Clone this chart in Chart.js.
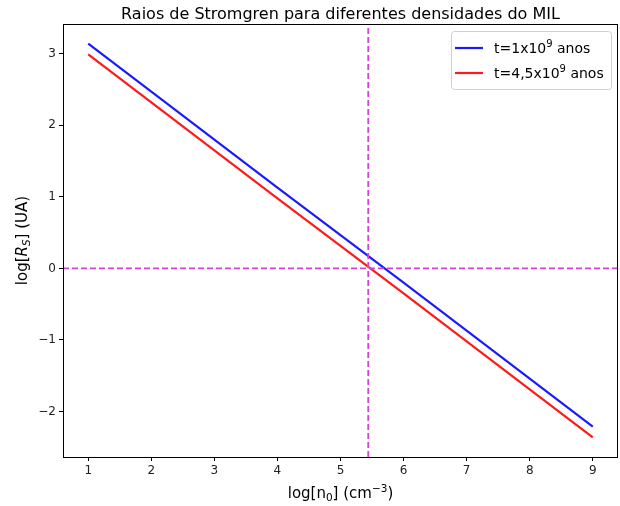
<!DOCTYPE html>
<html>
<head>
<meta charset="utf-8">
<script src="https://cdn.jsdelivr.net/npm/chart.js@4/dist/chart.umd.min.js"></script>
<style>
  html, body { margin: 0; padding: 0; background: #fff; }
  #wrap { width: 620px; height: 506px; position: relative; }
</style>
</head>
<body>
<div id="wrap"><canvas id="chart"></canvas></div>
<script>
// data
const logN0 = [1, 2, 3, 4, 5, 6, 7, 8, 9];
const logRs_t1 = [3.14, 2.47, 1.80, 1.13, 0.465, -0.20, -0.87, -1.54, -2.21];
const logRs_t45 = [2.99, 2.32, 1.65, 0.98, 0.315, -0.35, -1.02, -1.69, -2.36];
const crossX = 5.44;   // vertical dashed line
const crossY = 0;      // horizontal dashed line
const xTicks = [1, 2, 3, 4, 5, 6, 7, 8, 9];
const yTicks = [-2, -1, 0, 1, 2, 3];
const xRange = [0.6, 9.4];
const yRange = [-2.635, 3.415];

const FONT = '"DejaVu Sans", sans-serif';
const magenta = '#d444d4';

const toPts = (xs, ys) => xs.map((x, i) => ({ x: x, y: ys[i] }));

// frame, titles and legend drawn the matplotlib way
const decor = {
  id: 'decor',
  afterDraw(chart) {
    const { ctx, chartArea: a } = chart;
    ctx.save();
    // box around the plot
    ctx.strokeStyle = '#000';
    ctx.lineWidth = 1;
    ctx.strokeRect(Math.round(a.left) + 0.5, Math.round(a.top) + 0.5,
      Math.round(a.right - a.left) - 1, Math.round(a.bottom - a.top));

    ctx.fillStyle = '#000';
    ctx.textBaseline = 'alphabetic';
    // title
    ctx.font = '16px ' + FONT;
    ctx.textAlign = 'center';
    ctx.fillText('Raios de Stromgren para diferentes densidades do MIL', (a.left + a.right) / 2, 19);

    // x title: log[n0] (cm^-3)
    const cx = (a.left + a.right) / 2;
    drawParts(ctx, [
      ['log[n', 15, 0], ['0', 10.5, 3], ['] (cm', 15, 0], ['\u22123', 10.5, -6], [')', 15, 0]
    ], cx, 498);

    // y title rotated
    ctx.save();
    ctx.translate(27, (a.top + a.bottom) / 2);
    ctx.rotate(-Math.PI / 2);
    drawParts(ctx, [
      ['log[', 15, 0], ['R', 15, 0, 'italic '], ['S', 10.5, 3, 'italic '], ['] (UA)', 15, 0]
    ], 0, 0);
    ctx.restore();

    // legend
    const lx = 451, ly = 31, lw = 160, lh = 58;
    ctx.fillStyle = 'rgba(255,255,255,0.8)';
    ctx.strokeStyle = '#d0d0d0';
    ctx.beginPath();
    ctx.roundRect(lx + 0.5, ly + 0.5, lw, lh, 3);
    ctx.fill();
    ctx.stroke();
    const items = [
      { color: '#1a1aff', y: 48, label: [['t=1x10', 14, 0], ['9', 10, -6], [' anos', 14, 0]] },
      { color: '#ff1a1a', y: 73, label: [['t=4,5x10', 14, 0], ['9', 10, -6], [' anos', 14, 0]] }
    ];
    items.forEach(it => {
      ctx.strokeStyle = it.color;
      ctx.lineWidth = 2.2;
      ctx.beginPath();
      ctx.moveTo(455, it.y);
      ctx.lineTo(483, it.y);
      ctx.stroke();
      ctx.fillStyle = '#000';
      drawParts(ctx, it.label, 494, it.y + 5, 'left');
    });
    ctx.restore();
  }
};

function drawParts(ctx, parts, x, y, align) {
  const widths = parts.map(p => { ctx.font = (p[3] || '') + p[1] + 'px ' + FONT; return ctx.measureText(p[0]).width; });
  const total = widths.reduce((s, w) => s + w, 0);
  let cur = align === 'left' ? x : x - total / 2;
  ctx.textAlign = 'left';
  parts.forEach((p, i) => {
    ctx.font = (p[3] || '') + p[1] + 'px ' + FONT;
    ctx.fillText(p[0], cur, y + p[2]);
    cur += widths[i];
  });
}

new Chart(document.getElementById('chart'), {
  type: 'scatter',
  data: {
    datasets: [
      {
        label: 'vertical',
        data: [{ x: crossX, y: yRange[0] }, { x: crossX, y: yRange[1] }],
        showLine: true, borderColor: magenta, borderWidth: 1.8, borderDash: [6, 3],
        pointRadius: 0
      },
      {
        label: 'horizontal',
        data: [{ x: xRange[0], y: crossY }, { x: xRange[1], y: crossY }],
        showLine: true, borderColor: magenta, borderWidth: 1.8, borderDash: [6, 3],
        pointRadius: 0
      },
      {
        label: 't=1x10^9 anos',
        data: toPts(logN0, logRs_t1),
        showLine: true, borderColor: '#1a1aff', borderWidth: 2.2, pointRadius: 0
      },
      {
        label: 't=4,5x10^9 anos',
        data: toPts(logN0, logRs_t45),
        showLine: true, borderColor: '#ff1a1a', borderWidth: 2.2, pointRadius: 0
      }
    ]
  },
  options: {
    responsive: true,
    maintainAspectRatio: false,
    animation: false,
    layout: { padding: { left: 0, right: 2, top: 24, bottom: 0 } },
    plugins: {
      legend: { display: false },
      title: { display: false },
      tooltip: { enabled: false }
    },
    scales: {
      x: {
        type: 'linear',
        min: xRange[0], max: xRange[1],
        afterBuildTicks: s => { s.ticks = xTicks.map(v => ({ value: v })); },
        afterFit: s => { s.height = 49; },
        grid: { drawOnChartArea: false, tickLength: 4, tickColor: '#000', color: '#000' },
        border: { display: false },
        ticks: { color: '#222', font: { size: 12, family: FONT }, padding: 3, maxRotation: 0 }
      },
      y: {
        type: 'linear',
        min: yRange[0], max: yRange[1],
        afterBuildTicks: s => { s.ticks = yTicks.map(v => ({ value: v })); },
        afterFit: s => { s.width = 63; },
        grid: { drawOnChartArea: false, tickLength: 4, tickColor: '#000', color: '#000' },
        border: { display: false },
        ticks: {
          color: '#222', font: { size: 12, family: FONT }, padding: 3,
          callback: v => (v < 0 ? '\u2212' + Math.abs(v) : String(v))
        }
      }
    }
  },
  plugins: [decor]
});
</script>
</body>
</html>
